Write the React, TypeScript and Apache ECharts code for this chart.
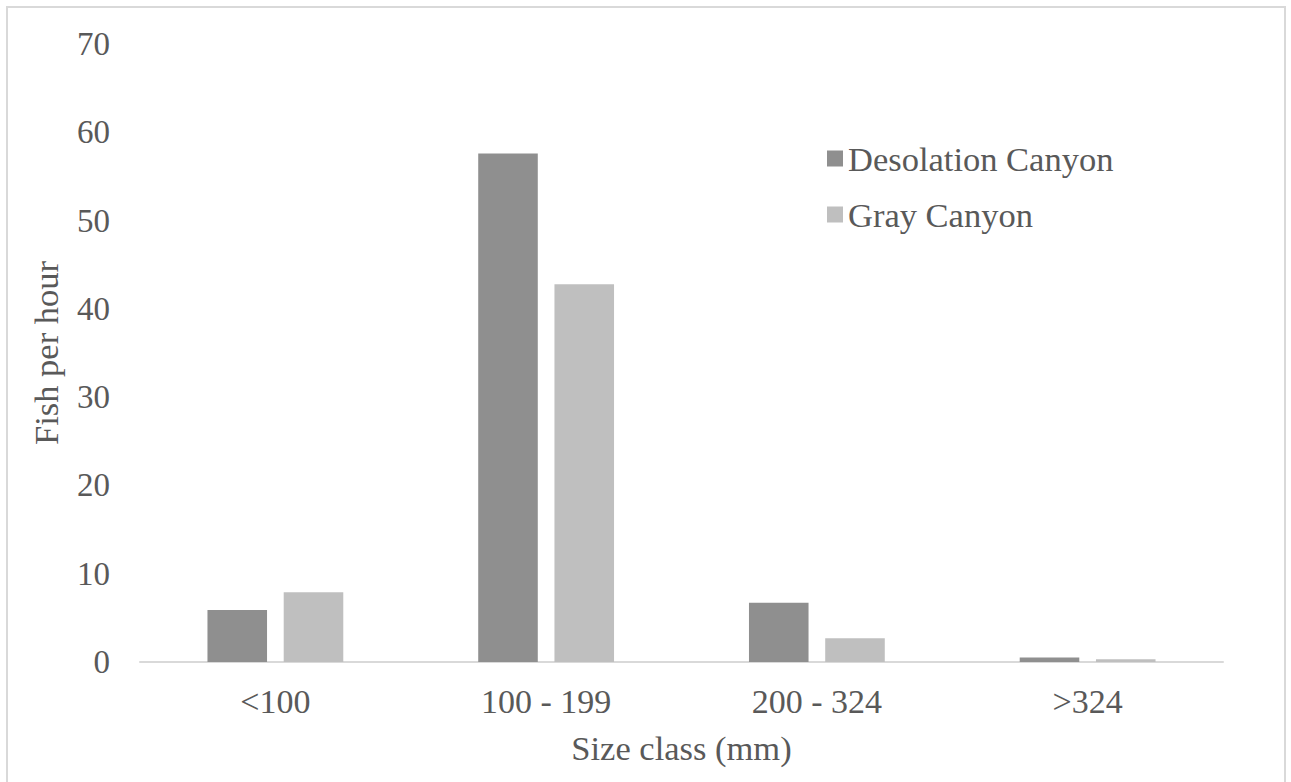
import React, { useEffect, useRef } from "react";
import * as echarts from "echarts";

// Size classes and catch rates (fish per hour) for the two canyons
const sizeClasses = ["<100", "100 - 199", "200 - 324", ">324"];
const desolationCanyon = [5.9, 57.6, 6.7, 0.5];
const grayCanyon = [7.9, 42.8, 2.7, 0.3];
const yTicks = { min: 0, max: 70, interval: 10 };

const FONT = "'Liberation Serif', 'Times New Roman', serif";
const TEXT_COLOR = "#595959";

export default function App() {
  const ref = useRef<HTMLDivElement>(null);

  useEffect(() => {
    if (!ref.current) return;
    const chart = echarts.init(ref.current, undefined, { renderer: "svg" });
    chart.setOption({
      animation: false,
      backgroundColor: "#ffffff",
      textStyle: { fontFamily: FONT, color: TEXT_COLOR },
      graphic: [
        {
          type: "rect",
          shape: { x: 7, y: 7, width: 1278, height: 800 },
          style: { fill: "none", stroke: "#d9d9d9", lineWidth: 2 },
          silent: true,
        },
      ],
      grid: { left: 140, right: 68, top: 44, bottom: 120 },
      legend: {
        orient: "vertical",
        left: 822,
        top: 136,
        itemWidth: 16,
        itemHeight: 16,
        itemGap: 21,
        icon: "rect",
        textStyle: { fontFamily: FONT, fontSize: 34.5, color: TEXT_COLOR },
        data: ["Desolation Canyon", "Gray Canyon"],
      },
      xAxis: {
        type: "category",
        data: sizeClasses,
        name: "Size class (mm)",
        nameLocation: "middle",
        nameGap: 68,
        nameTextStyle: { fontFamily: FONT, fontSize: 34.5, color: TEXT_COLOR },
        axisLine: { lineStyle: { color: "#d9d9d9", width: 2 } },
        axisTick: { show: false },
        axisLabel: { fontFamily: FONT, fontSize: 34, color: TEXT_COLOR, margin: 22 },
      },
      yAxis: {
        type: "value",
        min: yTicks.min,
        max: yTicks.max,
        interval: yTicks.interval,
        name: "Fish per hour",
        nameLocation: "middle",
        nameGap: 77,
        nameTextStyle: { fontFamily: FONT, fontSize: 34.5, color: TEXT_COLOR },
        axisLine: { show: false },
        axisTick: { show: false },
        splitLine: { show: false },
        axisLabel: { fontFamily: FONT, fontSize: 33, color: TEXT_COLOR, margin: 30 },
      },
      series: [
        {
          name: "Desolation Canyon",
          type: "bar",
          data: desolationCanyon,
          barWidth: "22%",
          barGap: "28%",
          itemStyle: { color: "#8f8f8f" },
        },
        {
          name: "Gray Canyon",
          type: "bar",
          data: grayCanyon,
          barWidth: "22%",
          itemStyle: { color: "#bfbfbf" },
        },
      ],
    });
    return () => chart.dispose();
  }, []);

  return (
    <div
      ref={ref}
      style={{ position: "fixed", left: 0, top: 0, width: 1291, height: 782 }}
    />
  );
}
